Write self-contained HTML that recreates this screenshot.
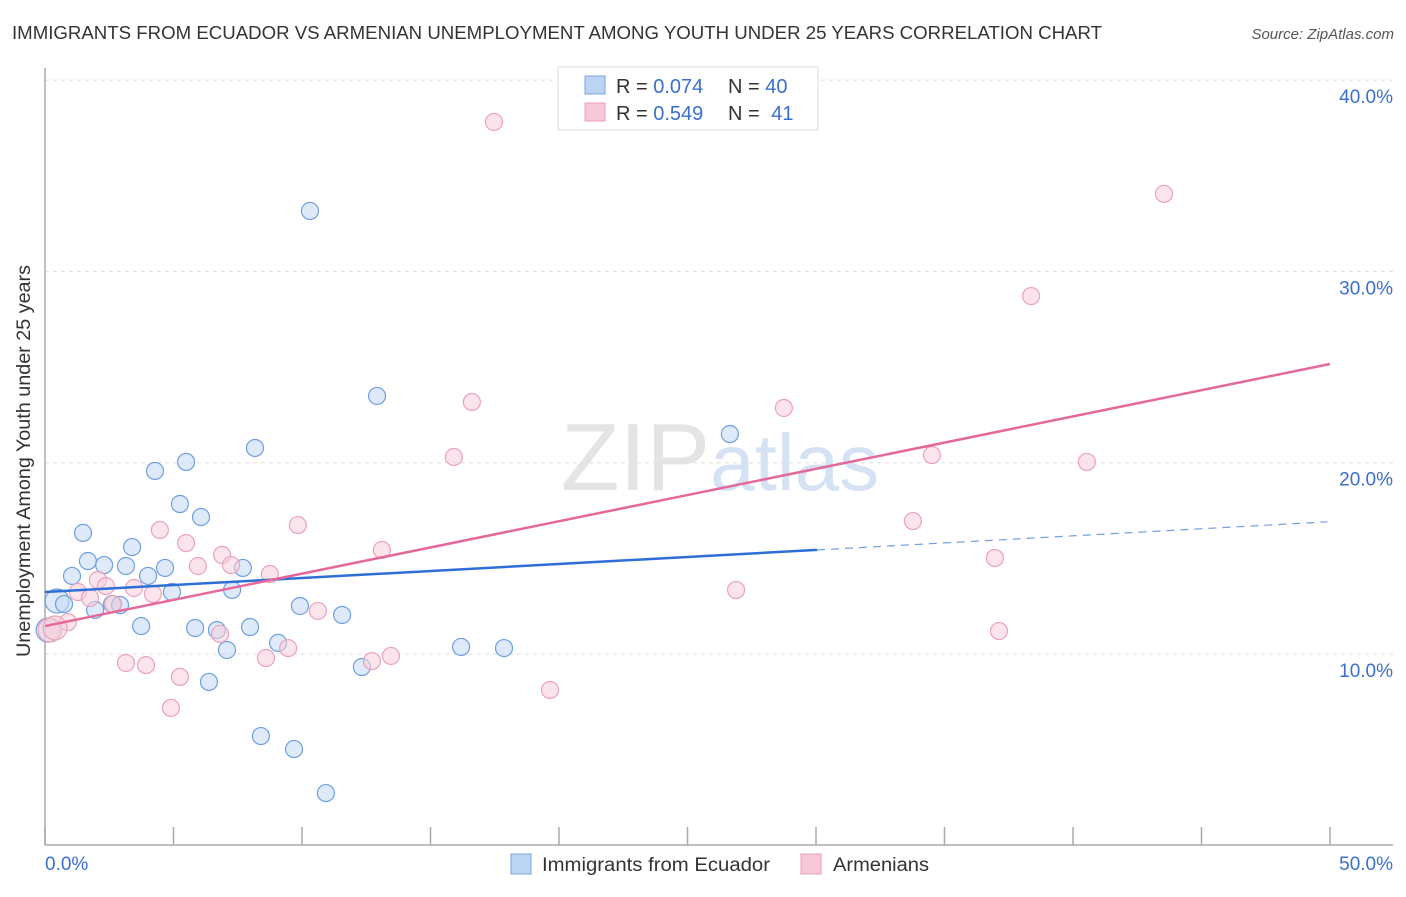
<!DOCTYPE html>
<html><head><meta charset="utf-8"><style>
body{margin:0;background:#fff;font-family:"Liberation Sans",sans-serif;}
svg text{font-family:"Liberation Sans",sans-serif;}
</style></head><body>
<svg width="1406" height="892" viewBox="0 0 1406 892">
<text x="12" y="39" font-size="18" fill="#333" textLength="1090" lengthAdjust="spacingAndGlyphs">IMMIGRANTS FROM ECUADOR VS ARMENIAN UNEMPLOYMENT AMONG YOUTH UNDER 25 YEARS CORRELATION CHART</text>
<text x="1394" y="39" font-size="15" fill="#555" font-style="italic" text-anchor="end">Source: ZipAtlas.com</text>
<g id="grid"></g>
<text x="720" y="490" font-size="96" fill="#e4e4e4" text-anchor="middle" font-family="Liberation Serif">ZIP<tspan fill="#d5e2f3" font-family="Liberation Sans" font-size="80">atlas</tspan></text>
<g id="axes"></g>
<g id="pts"></g>
<g id="lines"></g>
<text x="24" y="455" font-size="19" fill="#333" text-anchor="middle" textLength="392" lengthAdjust="spacingAndGlyphs" transform="rotate(-90 30 455)">Unemployment Among Youth under 25 years</text>
<text x="45" y="870" font-size="19" fill="#3a6fd0">0.0%</text>
<text x="1393" y="870" font-size="19" fill="#3a6fd0" text-anchor="end">50.0%</text>
<g>
<rect x="558" y="67" width="260" height="63" fill="#fff" stroke="#ddd"/>
<rect x="585" y="76" width="20" height="18" fill="#bcd4f4" stroke="#7aa6e0"/>
<rect x="585" y="103" width="20" height="18" fill="#f9c8d6" stroke="#e9a0b8"/>
<text x="616" y="93" font-size="20" fill="#333">R = <tspan fill="#3a6fd0">0.074</tspan><tspan x="728">N = </tspan><tspan fill="#3a6fd0">40</tspan></text>
<text x="616" y="120" font-size="20" fill="#333">R = <tspan fill="#3a6fd0">0.549</tspan><tspan x="728">N = </tspan><tspan fill="#3a6fd0" dx="6">41</tspan></text>
</g>
<g>
<rect x="511" y="854" width="20" height="20" fill="#bcd4f4" stroke="#7aa6e0"/>
<text x="542" y="871" font-size="19" fill="#333" textLength="228" lengthAdjust="spacingAndGlyphs">Immigrants from Ecuador</text>
<rect x="801" y="854" width="20" height="20" fill="#f9c8d6" stroke="#e9a0b8"/>
<text x="833" y="871" font-size="19" fill="#333" textLength="96" lengthAdjust="spacingAndGlyphs">Armenians</text>
</g>
</svg>
<script>
const yTicks=[10,20,30,40];
const yTickLabels=["10.0%","20.0%","30.0%","40.0%"];
const xTicks=[0,5,10,15,20,25,30,35,40,45,50];
const blueX=[10.31,12.92,26.65,8.17,4.28,5.49,5.25,6.07,1.48,3.39,1.67,2.30,3.15,4.67,7.70,1.05,4.01,4.94,7.28,0.47,0.74,2.61,2.92,1.95,9.92,11.56,3.74,5.84,6.69,7.98,9.07,7.08,16.19,17.86,12.33,6.38,8.40,9.69,10.93,0.12];
const blueY=[33.16,23.49,21.50,20.77,19.57,20.04,17.84,17.16,16.33,15.59,14.86,14.65,14.60,14.50,14.50,14.08,14.08,13.24,13.35,12.77,12.61,12.61,12.56,12.30,12.51,12.04,11.46,11.36,11.25,11.41,10.58,10.21,10.37,10.31,9.32,8.54,5.71,5.03,2.73,11.25];
const pinkX=[17.47,43.54,38.37,16.61,28.75,15.91,34.51,40.54,33.77,4.47,9.84,5.49,13.11,6.89,5.95,7.24,36.96,8.75,2.06,3.46,2.37,1.28,4.20,1.75,2.65,10.62,26.89,0.89,6.81,9.46,13.46,8.60,12.72,3.15,3.93,37.12,5.25,19.65,4.90,0.19,0.39];
const pinkY=[37.81,34.05,28.71,23.17,22.86,20.30,20.40,20.04,16.95,16.48,16.74,15.80,15.44,15.18,14.60,14.65,15.02,14.18,13.87,13.45,13.55,13.24,13.14,12.93,12.61,12.25,13.35,11.67,11.05,10.31,9.90,9.79,9.63,9.53,9.42,11.20,8.80,8.12,7.18,11.25,11.36];
const blueTrend=[[0,13.24],[30.04,15.44],[49.9,16.91]];
const pinkTrend=[[0,11.46],[50,25.16]];
const NS="http://www.w3.org/2000/svg";
const sx=v=>45+v*25.7, sy=v=>654-(v-10)*19.13;
function mk(t,a,p){const e=document.createElementNS(NS,t);for(const k in a)e.setAttribute(k,a[k]);document.getElementById(p).appendChild(e);return e;}
yTicks.forEach((t,i)=>{
 const l=mk('line',{x1:45,x2:1393,y1:sy(t),y2:sy(t),stroke:'#ddd','stroke-dasharray':'4 4'},'grid');
 
 
 const tx=mk('text',{x:1393,y:sy(t)+23,'font-size':19,fill:'#3a6fd0','text-anchor':'end'},'grid');
 tx.textContent=yTickLabels[i];
 
 
});
let a=mk('line',{x1:45,x2:45,y1:68,y2:845,stroke:'#aaa','stroke-width':1.5},'axes');


a=mk('line',{x1:45,x2:1393,y1:845,y2:845,stroke:'#aaa','stroke-width':1.5},'axes');


xTicks.forEach(t=>{const l=mk('line',{x1:sx(t),x2:sx(t),y1:827,y2:845,stroke:'#aaa','stroke-width':1.5},'axes');
 
 });
function pts(X,Y,f,s,n){X.forEach((x,i)=>{const r=(x<0.5)?12:8.5;const c=mk('circle',{cx:sx(x),cy:sy(Y[i]),r:r,fill:f,'fill-opacity':0.55,stroke:s,'stroke-width':1.2},'pts');
 
 });}
pts(blueX,blueY,'#c3d8f5','#6f9fe0','ecuador-point');
pts(pinkX,pinkY,'#f8cdd9','#eca2bb','armenian-point');
let l=mk('line',{x1:sx(blueTrend[0][0]),y1:sy(blueTrend[0][1]),x2:sx(blueTrend[1][0]),y2:sy(blueTrend[1][1]),stroke:'#2d6fd6','stroke-width':2.5},'lines');


l=mk('line',{x1:sx(blueTrend[1][0]),y1:sy(blueTrend[1][1]),x2:sx(blueTrend[2][0]),y2:sy(blueTrend[2][1]),stroke:'#6f9fe0','stroke-width':1.2,'stroke-dasharray':'8 6'},'lines');


l=mk('line',{x1:sx(pinkTrend[0][0]),y1:sy(pinkTrend[0][1]),x2:sx(pinkTrend[1][0]),y2:sy(pinkTrend[1][1]),stroke:'#e4699a','stroke-width':2.5},'lines');


</script>
</body></html>
